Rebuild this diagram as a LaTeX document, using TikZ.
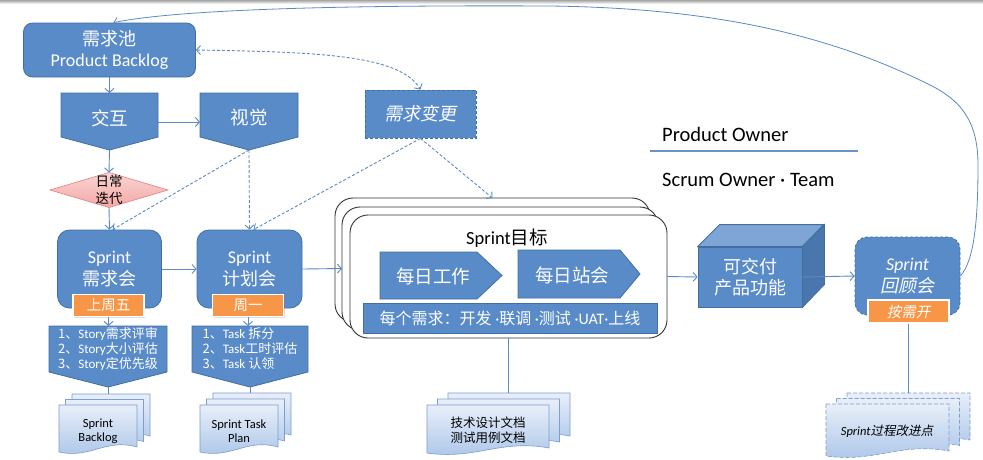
\documentclass[tikz,border=0pt]{standalone}
\usepackage{fontspec}
\setmainfont{Carlito}
\newfontfamily\cjk{Noto Sans CJK SC}
\newfontfamily\cjkit[FakeSlant=0.2]{Noto Sans CJK SC}
\usetikzlibrary{arrows.meta,calc,shadows}
\definecolor{bfill}{HTML}{5A8BC9}
\definecolor{bdraw}{HTML}{41709F}
\definecolor{lnc}{HTML}{5B89C4}
\definecolor{orng}{HTML}{F79646}
\definecolor{ctop}{HTML}{7FA5D6}
\definecolor{cside}{HTML}{4A76AE}
\definecolor{docT}{HTML}{E8EFF9}
\definecolor{docB}{HTML}{A9C4E8}
\definecolor{docD}{HTML}{7C9ED0}
\definecolor{pinkT}{HTML}{FAD4D3}
\definecolor{pinkB}{HTML}{F2A9A6}
\definecolor{pinkD}{HTML}{E0827F}
\definecolor{poline}{HTML}{6C93C8}
\newcommand{\zh}[1]{{\cjk #1}}
\newcommand{\zhi}[1]{{\cjkit #1}}
\newcommand{\fs}[2]{\fontsize{#1}{#2}\selectfont}
% document shape: x y w h style
\newcommand{\docshape}[5]{\path[#5] (#1,#2) -- (#1+#3,#2) -- (#1+#3,#2+#4-5) .. controls (#1+0.6*#3,#2+#4-14) and (#1+0.4*#3,#2+#4+7) .. (#1,#2+#4) -- cycle;}
% stack of three documents: x y w h dx dy style
\newcommand{\docstack}[7]{%
  \docshape{#1+2*#5}{#2-2*#6}{#3}{#4}{#7}
  \docshape{#1+#5}{#2-#6}{#3}{#4}{#7}
  \docshape{#1}{#2}{#3}{#4}{#7}}
\begin{document}
\begin{tikzpicture}[x=1pt,y=-1pt,
  >={Straight Barb[length=4pt,width=9pt]},
  arr/.style={draw=lnc,line width=0.9pt,->},
  darr/.style={arr,dash pattern=on 3pt off 2pt},
  plain/.style={draw=lnc,line width=0.9pt},
  bbox/.style={fill=bfill,draw=bdraw,line width=0.8pt},
  rbox/.style={bbox,rounded corners=12pt},
  shp/.style={inner sep=0pt,outer sep=0pt},
  wt/.style={text=white,align=center,inner sep=0pt},
  bk/.style={text=black,align=center,inner sep=0pt},
  lbl/.style={fill=orng,draw=white,line width=1.5pt,text=white,inner sep=0pt,
    drop shadow={opacity=0.25,shadow xshift=1pt,shadow yshift=-1pt}},
  doc/.style={top color=docT,bottom color=docB,draw=docD,line width=0.6pt},
  sprintbox/.style={shp,draw=black!80,line width=0.9pt,fill=white,rounded corners=18pt}]

\useasboundingbox (0,0) rectangle (983,459);
\fill[white] (0,0) rectangle (983,459);
\shade[top color=gray!70,bottom color=white] (0,0) rectangle (983,4);

% ---------- product backlog ----------
\node[rbox,rounded corners=9pt,minimum width=172,minimum height=54,wt,font=\fs{18}{21}] (qcc) at (109.5,50) {\zh{需求池}\\Product Backlog};

% ---------- 交互 / 视觉 ----------
\node[shp,minimum width=97,minimum height=44] (jh) at (109.5,115) {};
\path[bbox] (jh.north west) -- (jh.north east) -- (jh.south east) -- ($(jh.south)+(0,13)$) -- (jh.south west) -- cycle;
\node[wt,font=\fs{18.5}{20}] (jht) at ($(jh.center)+(0,3)$) {\zh{交互}};

\node[shp,minimum width=98,minimum height=44] (sj) at (249,115) {};
\path[bbox] (sj.north west) -- (sj.north east) -- (sj.south east) -- ($(sj.south)+(0,13)$) -- (sj.south west) -- cycle;
\node[wt,font=\fs{18.5}{20}] (sjt) at ($(sj.center)+(0,3)$) {\zh{视觉}};

% ---------- diamond ----------
\node[shp,minimum width=118,minimum height=35] (dd) at (109,190) {};
\path[top color=pinkT,bottom color=pinkB,draw=pinkD,line width=0.6pt] (dd.north) -- (dd.east) -- (dd.south) -- (dd.west) -- cycle;
\node[bk,font=\fs{13.5}{17}] (ddt) at (dd.center) {\zh{日常}\\\zh{迭代}};

% ---------- 需求变更 ----------
\node[bbox,dash pattern=on 3pt off 2pt,minimum width=111,minimum height=48,wt,font=\fs{18}{20}] (bg) at (420.5,114) {\zhi{需求变更}};

% ---------- Sprint meetings ----------
\node[rbox,minimum width=104,minimum height=78,wt,font=\fs{18}{22}] (xqh) at (109.5,269) {Sprint\\\zh{需求会}};
\node[lbl,minimum width=71,minimum height=22,font=\fs{14.5}{16}] (l1) at (108.5,305.5) {\zh{上周五}};
\node[rbox,minimum width=105,minimum height=78,wt,font=\fs{18}{22}] (jhh) at (249.5,269) {Sprint\\\zh{计划会}};
\node[lbl,minimum width=71,minimum height=22,font=\fs{14.5}{16}] (l2) at (248,305.5) {\zh{周一}};

% ---------- lists ----------
\node[shp,minimum width=118,minimum height=46] (ls1) at (108,349) {};
\path[bbox] (ls1.north west) -- (ls1.north east) -- (ls1.south east) -- ($(ls1.south)+(0,15)$) -- (ls1.south west) -- cycle;
\node[wt,align=left,font=\fs{13}{15}] (ls1t) at (ls1.center) {\zh{1、}Story\zh{需求评审}\\\zh{2、}Story\zh{大小评估}\\\zh{3、}Story\zh{定优先级}};

\node[shp,minimum width=116,minimum height=46] (ls2) at (250,349) {};
\path[bbox] (ls2.north west) -- (ls2.north east) -- (ls2.south east) -- ($(ls2.south)+(0,15)$) -- (ls2.south west) -- cycle;
\node[wt,align=left,font=\fs{13}{15}] (ls2t) at (ls2.center) {\zh{1、}Task \zh{拆分}\\\zh{2、}Task\zh{工时评估}\\\zh{3、}Task \zh{认领}};

% ---------- documents ----------
\docstack{59}{405}{78}{47}{6.5}{5.5}{doc}
\node[bk,font=\fs{12.5}{14}] (d1t) at (98,431) {Sprint\\Backlog};
\coordinate (d1) at (111,394);
\docstack{200}{405}{78}{47}{6.5}{6}{doc}
\node[bk,font=\fs{12.5}{14}] (d2t) at (239,431) {Sprint Task\\Plan};
\coordinate (d2) at (252,393);
\docstack{427}{405}{122}{48}{10.5}{6}{doc}
\node[bk,font=\fs{12.5}{15}] (d3t) at (488,430) {\zh{技术设计文档}\\\zh{测试用例文档}};
\coordinate (d3) at (508.5,393);
\docstack{826}{404}{123}{52}{10.5}{5.5}{doc,dash pattern=on 4pt off 2pt}
\node[bk,font=\fs{12.5}{15}] (d4t) at (887,431) {\textit{Sprint}\zhi{过程改进点}};
\coordinate (d4) at (908.5,393);

% ---------- Sprint 目标 ----------
\node[sprintbox,minimum width=315,minimum height=124] (sb1) at (492.5,260) {};
\node[sprintbox,minimum width=316,minimum height=123] (sb2) at (500,268.5) {};
\node[sprintbox,minimum width=317,minimum height=123] (sb3) at (508.5,276.5) {};
\node[bk,font=\fs{18.5}{20}] (sbt) at (507,238) {Sprint\zh{目标}};

\node[shp,minimum width=97,minimum height=47] (mr1) at (428.5,275.5) {};
\path[bbox] (mr1.north west) -- (mr1.north east) -- ($(mr1.east)+(25,0)$) -- (mr1.south east) -- (mr1.south west) -- cycle;
\node[wt,font=\fs{18.5}{20}] (mr1t) at (433,276) {\zh{每日工作}};
\node[shp,minimum width=102,minimum height=48] (mr2) at (569,274) {};
\path[bbox] (mr2.north west) -- (mr2.north east) -- ($(mr2.east)+(20,0)$) -- (mr2.south east) -- (mr2.south west) -- cycle;
\node[wt,font=\fs{18.5}{20}] (mr2t) at (572,275) {\zh{每日站会}};
\node[bbox,minimum width=294,minimum height=30,wt,font=\fs{16}{18}] (bar) at (510,318) {\zh{每个需求：开发} ·\zh{联调} ·\zh{测试} ·UAT·\zh{上线}};

% ---------- cube ----------
\node[bbox,minimum width=104,minimum height=60,wt,font=\fs{18}{21}] (cube) at (750,277) {\zh{可交付}\\\zh{产品功能}};
\path[fill=ctop,draw=bdraw,line width=0.8pt] (cube.north west) -- ++(22,-22) -- ++(104,0) -- (cube.north east) -- cycle;
\path[fill=cside,draw=bdraw,line width=0.8pt] (cube.north east) -- ++(22,-22) -- ++(0,60) -- (cube.south east) -- cycle;

% ---------- 回顾会 ----------
\node[rbox,dash pattern=on 3pt off 2pt,minimum width=105,minimum height=78,wt,font=\fs{18}{22}] (hg) at (907.5,276) {\textit{Sprint}\\\zhi{回顾会}};
\node[lbl,minimum width=81,minimum height=23,font=\fs{14.5}{16}] (hl) at (908.5,311.5) {\zhi{按需开}};

% ---------- roles ----------
\node[anchor=west,inner sep=0pt,font=\fs{20.5}{22}] (po) at (662,134) {Product Owner};
\node[anchor=west,inner sep=0pt,font=\fs{20.5}{22}] (so) at (662,180) {Scrum Owner · Team};
\coordinate (pol1) at (650,151);
\coordinate (pol2) at (858,151);
\draw[draw=poline,line width=2pt] (pol1) -- (pol2);

% ---------- connectors ----------
\draw[arr] (qcc.south) -- (jh.north);
\draw[arr] ($(jh.east)+(0,7)$) -- ($(sj.west)+(0,7)$);
\draw[arr] ($(jh.south)+(0,13)$) -- (dd.north);
\draw[arr] (dd.south) -- (xqh.north);
\draw[darr] ($(sj.south)+(0,13)$) -- ($(xqh.north)+(3,0)$);
\draw[darr] ($(sj.south)+(0,13)$) -- (jhh.north);
\draw[darr] (bg.south) -- ($(jhh.north)+(4,0)$);
\draw[darr] (bg.south) -- (sb1.north);
\draw[draw=lnc,line width=0.9pt,dash pattern=on 3pt off 2pt,<->] (qcc.east) .. controls (320,52) and (400,55) .. (bg.north);
\draw[arr] (xqh.east) -- (jhh.west);
\draw[arr] (jhh.east) -- (sb2.west);
\draw[arr] (l1.south) -- (l1.south |- ls1.north);
\draw[arr] (l2.south) -- (l2.south |- ls2.north);
\draw[plain] ($(ls1.south)+(0,15)$) -- (ls1.south |- d1);
\draw[plain] ($(ls2.south)+(0,15)$) -- (ls2.south |- d2);
\draw[arr] (sb3.east) -- (cube.west);
\draw[arr] (cube.east) -- (hg.west);
\draw[plain] (sb3.south) -- (sb3.south |- d3);
\draw[plain] (hl.south) -- (hl.south |- d4);
\draw[arr,line width=0.8pt] (hg.east) .. controls (975,260) and (978,215) .. (978,165)
  .. controls (978,120) and (960,100) .. (930,85)
  .. controls (820,30) and (700,8) .. (550,6)
  .. controls (350,5) and (180,9) .. ($(qcc.north)+(4,0)$);
\end{tikzpicture}
\end{document}
